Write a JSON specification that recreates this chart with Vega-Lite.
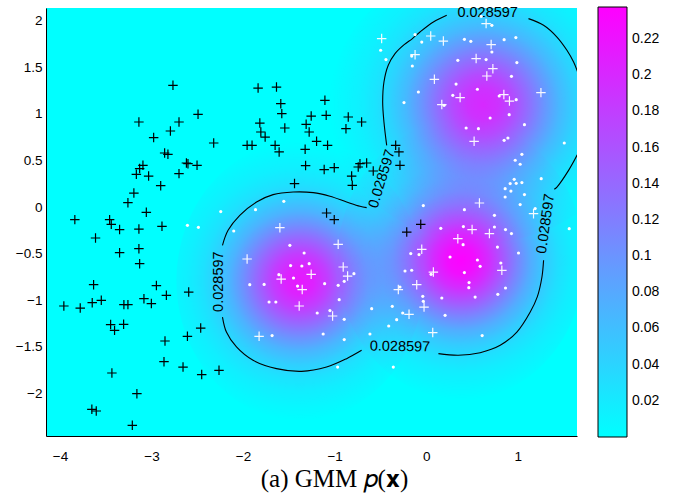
{
  "$schema": "https://vega.github.io/schema/vega-lite/v6.json",
  "width": 531,
  "height": 428,
  "autosize": {"type": "none"},
  "padding": {"left": 46, "top": 8, "right": 97, "bottom": 58},
  "background": "white",
  "title": {"text": "(a) GMM 𝑝(𝐱)", "orient": "bottom", "anchor": "middle", "frame": "group", "font": "Liberation Serif", "fontSize": 25, "fontWeight": "normal", "color": "black", "dx": 23, "offset": 4},
  "config": {
    "view": {"stroke": null, "fill": "#00ffff"},
    "axis": {"title": null, "grid": false, "ticks": false, "domainColor": "black", "domainWidth": 1, "labelFont": "Liberation Sans", "labelFontSize": 13.5, "labelColor": "black", "labelOverlap": false, "labelFlush": false}
  },
  "datasets": {
    "blobsLow": [
      {"x": -1.38, "y": -0.79, "peak": 0.215, "sigma": 0.45},
      {"x": 0.38, "y": -0.57, "peak": 0.235, "sigma": 0.45}
    ],
    "blobsTop": [
      {"x": 0.62, "y": 1.1, "peak": 0.2, "sigma": 0.56}
    ],
    "contour": [
      {"seg": 1, "i": 0, "x": -0.431, "y": 0.661}, {"seg": 1, "i": 1, "x": -0.461, "y": 0.911}, {"seg": 1, "i": 2, "x": -0.475, "y": 1.125}, {"seg": 1, "i": 3, "x": -0.461, "y": 1.34}, {"seg": 1, "i": 4, "x": -0.414, "y": 1.519}, {"seg": 1, "i": 5, "x": -0.34, "y": 1.644}, {"seg": 1, "i": 6, "x": -0.24, "y": 1.74}, {"seg": 1, "i": 7, "x": -0.15, "y": 1.805}, {"seg": 1, "i": 8, "x": -0.067, "y": 1.876}, {"seg": 1, "i": 9, "x": 0.079, "y": 1.983}, {"seg": 1, "i": 10, "x": 0.225, "y": 2.055},
      {"seg": 2, "i": 0, "x": 1.118, "y": 2.019}, {"seg": 2, "i": 1, "x": 1.283, "y": 1.948}, {"seg": 2, "i": 2, "x": 1.429, "y": 1.822}, {"seg": 2, "i": 3, "x": 1.538, "y": 1.68}, {"seg": 2, "i": 4, "x": 1.611, "y": 1.554}, {"seg": 2, "i": 5, "x": 1.648, "y": 1.465}, {"seg": 2, "i": 6, "x": 1.72, "y": 1.25}, {"seg": 2, "i": 7, "x": 1.75, "y": 1.0}, {"seg": 2, "i": 8, "x": 1.73, "y": 0.78}, {"seg": 2, "i": 9, "x": 1.7, "y": 0.66}, {"seg": 2, "i": 10, "x": 1.648, "y": 0.554}, {"seg": 2, "i": 11, "x": 1.556, "y": 0.393}, {"seg": 2, "i": 12, "x": 1.429, "y": 0.214}, {"seg": 2, "i": 13, "x": 1.4, "y": 0.19},
      {"seg": 3, "i": 0, "x": 1.283, "y": -0.571}, {"seg": 3, "i": 1, "x": 1.265, "y": -0.75}, {"seg": 3, "i": 2, "x": 1.215, "y": -0.96}, {"seg": 3, "i": 3, "x": 1.137, "y": -1.125}, {"seg": 3, "i": 4, "x": 0.991, "y": -1.34}, {"seg": 3, "i": 5, "x": 0.809, "y": -1.482}, {"seg": 3, "i": 6, "x": 0.59, "y": -1.561}, {"seg": 3, "i": 7, "x": 0.352, "y": -1.589}, {"seg": 3, "i": 8, "x": 0.134, "y": -1.571},
      {"seg": 4, "i": 0, "x": -0.705, "y": -1.536}, {"seg": 4, "i": 1, "x": -0.869, "y": -1.625}, {"seg": 4, "i": 2, "x": -1.088, "y": -1.715}, {"seg": 4, "i": 3, "x": -1.361, "y": -1.761}, {"seg": 4, "i": 4, "x": -1.635, "y": -1.732}, {"seg": 4, "i": 5, "x": -1.891, "y": -1.643}, {"seg": 4, "i": 6, "x": -2.072, "y": -1.5}, {"seg": 4, "i": 7, "x": -2.182, "y": -1.34}, {"seg": 4, "i": 8, "x": -2.225, "y": -1.179},
      {"seg": 5, "i": 0, "x": -2.225, "y": -0.41}, {"seg": 5, "i": 1, "x": -2.164, "y": -0.25}, {"seg": 5, "i": 2, "x": -2.036, "y": -0.089}, {"seg": 5, "i": 3, "x": -1.853, "y": 0.054}, {"seg": 5, "i": 4, "x": -1.672, "y": 0.133}, {"seg": 5, "i": 5, "x": -1.453, "y": 0.161}, {"seg": 5, "i": 6, "x": -1.234, "y": 0.154}, {"seg": 5, "i": 7, "x": -1.051, "y": 0.115}, {"seg": 5, "i": 8, "x": -0.869, "y": 0.054}, {"seg": 5, "i": 9, "x": -0.723, "y": 0.008}, {"seg": 5, "i": 10, "x": -0.65, "y": -0.006}
    ],
    "clabels": [
      {"id": 1, "x": 0.672, "y": 2.075, "text": "0.028597"},
      {"id": 2, "x": -0.48, "y": 0.3, "text": "0.028597"},
      {"id": 3, "x": -2.266, "y": -0.8, "text": "0.028597"},
      {"id": 4, "x": -0.286, "y": -1.5, "text": "0.028597"},
      {"id": 5, "x": 1.31, "y": -0.18, "text": "0.028597"}
    ],
    "blackPlus": [
      {"x": -2.766, "y": 1.304}, {"x": -2.492, "y": 0.994}, {"x": -3.138, "y": 0.911}, {"x": -2.7, "y": 0.911}, {"x": -2.794, "y": 0.815}, {"x": -2.977, "y": 0.744}, {"x": -2.321, "y": 0.686}, {"x": -2.857, "y": 0.579}, {"x": -2.821, "y": 0.565},
      {"x": -2.619, "y": 0.472}, {"x": -2.602, "y": 0.465}, {"x": -2.503, "y": 0.447}, {"x": -3.094, "y": 0.447}, {"x": -3.13, "y": 0.412}, {"x": -3.166, "y": 0.35}, {"x": -3.032, "y": 0.332}, {"x": -2.7, "y": 0.358}, {"x": -2.9, "y": 0.229}, {"x": -3.193, "y": 0.15}, {"x": -3.258, "y": 0.047}, {"x": -3.057, "y": -0.057}, {"x": -3.838, "y": -0.135}, {"x": -3.458, "y": -0.135}, {"x": -3.44, "y": -0.185}, {"x": -3.349, "y": -0.242}, {"x": -3.138, "y": -0.236}, {"x": -2.886, "y": -0.207}, {"x": -3.612, "y": -0.332}, {"x": -3.138, "y": -0.446}, {"x": -3.349, "y": -0.489}, {"x": -3.13, "y": -0.607}, {"x": -3.633, "y": -0.832}, {"x": -2.947, "y": -0.842}, {"x": -2.594, "y": -0.911}, {"x": -2.838, "y": -0.946}, {"x": -3.083, "y": -0.982},
      {"x": -3.958, "y": -1.061}, {"x": -3.779, "y": -1.083}, {"x": -3.648, "y": -1.025}, {"x": -3.549, "y": -1.0}, {"x": -3.302, "y": -1.046}, {"x": -3.258, "y": -1.046}, {"x": -3.002, "y": -1.035}, {"x": -3.447, "y": -1.26}, {"x": -3.404, "y": -1.322}, {"x": -3.305, "y": -1.257}, {"x": -2.463, "y": -1.297}, {"x": -2.853, "y": -1.436}, {"x": -2.608, "y": -1.386}, {"x": -2.864, "y": -1.657}, {"x": -2.656, "y": -1.715}, {"x": -2.452, "y": -1.796}, {"x": -2.263, "y": -1.75}, {"x": -3.433, "y": -1.779}, {"x": -3.16, "y": -2.0}, {"x": -3.652, "y": -2.168}, {"x": -3.604, "y": -2.186}, {"x": -3.21, "y": -2.34},
      {"x": -1.836, "y": 1.275}, {"x": -1.635, "y": 1.286}, {"x": -1.588, "y": 1.108}, {"x": -1.577, "y": 1.001}, {"x": -1.106, "y": 1.144}, {"x": -1.256, "y": 0.975}, {"x": -1.092, "y": 0.983}, {"x": -0.851, "y": 0.965}, {"x": -0.705, "y": 0.911}, {"x": -1.817, "y": 0.9}, {"x": -1.806, "y": 0.804}, {"x": -1.759, "y": 0.75}, {"x": -1.544, "y": 0.847}, {"x": -1.311, "y": 0.886}, {"x": -1.278, "y": 0.804}, {"x": -0.876, "y": 0.84}, {"x": -1.197, "y": 0.704}, {"x": -1.077, "y": 0.661}, {"x": -1.956, "y": 0.661}, {"x": -1.902, "y": 0.661}, {"x": -1.65, "y": 0.661}, {"x": -1.606, "y": 0.59}, {"x": -1.322, "y": 0.618}, {"x": -0.333, "y": 0.661}, {"x": -0.297, "y": 0.59},
      {"x": -1.317, "y": 0.444}, {"x": -1.114, "y": 0.401}, {"x": -1.004, "y": 0.422}, {"x": -0.814, "y": 0.332}, {"x": -0.807, "y": 0.233}, {"x": -0.742, "y": 0.429}, {"x": -0.723, "y": 0.465}, {"x": -0.65, "y": 0.472}, {"x": -0.578, "y": 0.386}, {"x": -1.438, "y": 0.251}, {"x": -1.088, "y": -0.064}, {"x": -1.004, "y": -0.135}, {"x": -0.286, "y": 0.447}, {"x": -0.059, "y": -0.185}, {"x": -0.212, "y": -0.268}
    ],
    "whitePlus": [
      {"x": -0.486, "y": 1.805}, {"x": -1.598, "y": -0.221}, {"x": -0.961, "y": -0.4}, {"x": -1.956, "y": -0.557}, {"x": -0.906, "y": -0.643}, {"x": -0.858, "y": -0.74}, {"x": -1.256, "y": -0.721}, {"x": -1.584, "y": -0.772}, {"x": -1.354, "y": -0.885}, {"x": -0.304, "y": -0.885},
      {"x": -1.387, "y": -1.061}, {"x": -1.022, "y": -1.168}, {"x": -1.825, "y": -1.386}, {"x": -0.023, "y": -1.072}, {"x": -0.187, "y": -1.15}, {"x": 0.072, "y": -1.346},
      {"x": 0.582, "y": 0.043}, {"x": 1.173, "y": -0.071}, {"x": 0.502, "y": -0.242}, {"x": 0.691, "y": -0.285}, {"x": 0.346, "y": -0.339}, {"x": -0.048, "y": -0.453}, {"x": 0.827, "y": -0.678}, {"x": 0.079, "y": -0.697}, {"x": -0.103, "y": -0.832},
      {"x": 0.655, "y": 1.966}, {"x": 0.05, "y": 1.833}, {"x": 0.188, "y": 1.779}, {"x": 0.71, "y": 1.741}, {"x": -0.121, "y": 1.633}, {"x": 0.546, "y": 1.591}, {"x": 0.729, "y": 1.483}, {"x": 0.663, "y": 1.404}, {"x": 0.09, "y": 1.369}, {"x": 0.371, "y": 1.173}, {"x": 0.849, "y": 1.205}, {"x": 0.91, "y": 1.136}, {"x": 0.171, "y": 1.098}, {"x": 1.254, "y": 1.226}, {"x": 0.524, "y": 0.704}
    ],
    "whiteDots": [
      {"x": -2.244, "y": -0.049}, {"x": -2.608, "y": -0.196}, {"x": -2.488, "y": -0.218}, {"x": -0.497, "y": 1.68}, {"x": -0.439, "y": 1.58}, {"x": -0.242, "y": 1.119},
      {"x": -1.555, "y": 0.061}, {"x": -1.864, "y": -0.028}, {"x": -2.102, "y": -0.257}, {"x": -1.489, "y": -0.411}, {"x": -1.333, "y": -0.493}, {"x": -1.278, "y": -0.607}, {"x": -1.481, "y": -0.628}, {"x": -1.358, "y": -0.632}, {"x": -1.609, "y": -0.725}, {"x": -1.449, "y": -0.761}, {"x": -1.405, "y": -0.847}, {"x": -1.927, "y": -0.832}, {"x": -1.77, "y": -0.829}, {"x": -1.109, "y": -0.821}, {"x": -0.961, "y": -0.839}, {"x": -0.895, "y": -0.796}, {"x": -0.789, "y": -0.714}, {"x": -0.231, "y": -0.686}, {"x": -0.286, "y": -0.857}, {"x": -0.95, "y": -0.993},
      {"x": -1.716, "y": -1.018}, {"x": -1.642, "y": -1.018}, {"x": -1.19, "y": -1.136}, {"x": -1.051, "y": -1.11}, {"x": -0.895, "y": -1.204}, {"x": -1.683, "y": -1.378}, {"x": -1.125, "y": -1.361}, {"x": -0.895, "y": -1.421}, {"x": -0.967, "y": -1.715}, {"x": -0.595, "y": -1.089}, {"x": -0.37, "y": -1.064}, {"x": -0.256, "y": -1.136}, {"x": -0.322, "y": -1.207}, {"x": -0.409, "y": -1.275}, {"x": -0.614, "y": -1.361}, {"x": -0.359, "y": -1.715},
      {"x": -0.037, "y": -0.957}, {"x": 0.171, "y": -0.975}, {"x": 0.535, "y": -0.965}, {"x": 0.783, "y": -0.936}, {"x": -0.031, "y": -1.011}, {"x": 0.207, "y": -1.161}, {"x": 0.612, "y": -1.378},
      {"x": 1.046, "y": 0.565}, {"x": 0.973, "y": 0.501}, {"x": 1.027, "y": 0.458}, {"x": 0.962, "y": 0.297}, {"x": 0.918, "y": 0.251}, {"x": 0.984, "y": 0.254}, {"x": 1.046, "y": 0.262}, {"x": 1.257, "y": 0.304}, {"x": 0.863, "y": 0.197}, {"x": 0.926, "y": 0.171}, {"x": 1.074, "y": 0.133}, {"x": 0.863, "y": 0.107}, {"x": 1.027, "y": 0.026}, {"x": 1.191, "y": -0.017}, {"x": 1.563, "y": -0.232},
      {"x": -0.031, "y": 0.015}, {"x": 0.418, "y": -0.028}, {"x": 0.746, "y": -0.089}, {"x": 0.16, "y": -0.228}, {"x": 0.407, "y": -0.21}, {"x": 0.746, "y": -0.214}, {"x": 0.867, "y": -0.242}, {"x": 0.932, "y": -0.285}, {"x": 0.404, "y": -0.403}, {"x": 0.779, "y": -0.429}, {"x": 1.009, "y": -0.493}, {"x": -0.168, "y": -0.499}, {"x": -0.078, "y": -0.51}, {"x": 0.261, "y": -0.536}, {"x": 0.56, "y": -0.568}, {"x": 0.59, "y": -0.636}, {"x": 0.816, "y": -0.6}, {"x": -0.158, "y": -0.678}, {"x": 0.418, "y": -0.703}, {"x": 0.054, "y": -0.721}, {"x": 0.469, "y": -0.81}, {"x": 0.466, "y": -0.864}, {"x": 0.867, "y": -0.868},
      {"x": 0.601, "y": 2.044}, {"x": 0.718, "y": 1.947}, {"x": -0.121, "y": 1.848}, {"x": -0.048, "y": 1.768}, {"x": 0.418, "y": 1.797}, {"x": 0.488, "y": 1.776}, {"x": 0.852, "y": 1.794}, {"x": 0.98, "y": 1.816}, {"x": -0.158, "y": 1.618}, {"x": -0.151, "y": 1.511}, {"x": 0.346, "y": 1.572}, {"x": 0.655, "y": 1.58}, {"x": 0.718, "y": 1.661}, {"x": 0.991, "y": 1.548}, {"x": 0.932, "y": 1.401}, {"x": 0.327, "y": 1.318}, {"x": -0.085, "y": 1.233}, {"x": 0.56, "y": 1.262}, {"x": 0.291, "y": 1.197}, {"x": 0.798, "y": 1.19}, {"x": 0.984, "y": 1.151}, {"x": 0.196, "y": 1.09}, {"x": 0.907, "y": 0.99}, {"x": 0.699, "y": 0.954}, {"x": 1.074, "y": 0.883}, {"x": 0.437, "y": 0.847}, {"x": 0.571, "y": 0.84}, {"x": 0.852, "y": 0.715}, {"x": 0.893, "y": 0.74}, {"x": 1.509, "y": 0.686}
    ]
  },
  "encoding": {
    "x": {"field": "x", "type": "quantitative", "scale": {"domain": [-4.153, 1.648], "nice": false, "zero": false}, "axis": {"values": [-4, -3, -2, -1, 0, 1], "format": "~g", "labelPadding": 13}},
    "y": {"field": "y", "type": "quantitative", "scale": {"domain": [-2.454, 2.133], "nice": false, "zero": false}, "axis": {"values": [-2, -1.5, -1, -0.5, 0, 0.5, 1, 1.5, 2], "format": "~g", "labelPadding": 4}}
  },
  "layer": [
    {
      "data": {"name": "blobsLow"},
      "mark": {"type": "point", "shape": "M-1,0A1,1.13,0,1,0,1,0A1,1.13,0,1,0,-1,0Z", "filled": true, "strokeWidth": 0, "clip": true,
        "fill": {"gradient": "radial", "x1": 0.5, "y1": 0.5, "r1": 0, "x2": 0.5, "y2": 0.5, "r2": 0.5, "stops": [
          {"offset": 0, "color": "rgba(255,0,255,1)"}, {"offset": 0.1, "color": "rgba(255,0,255,0.956)"}, {"offset": 0.2, "color": "rgba(255,0,255,0.835)"}, {"offset": 0.3, "color": "rgba(255,0,255,0.667)"}, {"offset": 0.4, "color": "rgba(255,0,255,0.49)"}, {"offset": 0.5, "color": "rgba(255,0,255,0.33)"}, {"offset": 0.6, "color": "rgba(255,0,255,0.21)"}, {"offset": 0.7, "color": "rgba(255,0,255,0.125)"}, {"offset": 0.8, "color": "rgba(255,0,255,0.07)"}, {"offset": 0.9, "color": "rgba(255,0,255,0.035)"}, {"offset": 1, "color": "rgba(255,0,255,0)"}]}},
      "encoding": {
        "size": {"field": "sigma", "type": "quantitative", "scale": {"type": "pow", "exponent": 2, "domain": [0, 1], "range": [0, 300743]}, "legend": null},
        "opacity": {"field": "peak", "type": "quantitative", "scale": {"domain": [0, 0.238], "range": [0, 1.0013]}, "legend": null}
      }
    },
    {
      "data": {"name": "blobsTop"},
      "mark": {"type": "point", "shape": "M-1,0A1,0.9,0,1,0,1,0A1,0.9,0,1,0,-1,0Z", "filled": true, "strokeWidth": 0, "clip": true,
        "fill": {"gradient": "radial", "x1": 0.5, "y1": 0.5, "r1": 0, "x2": 0.5, "y2": 0.5, "r2": 0.5, "stops": [
          {"offset": 0, "color": "rgba(255,0,255,1)"}, {"offset": 0.1, "color": "rgba(255,0,255,0.956)"}, {"offset": 0.2, "color": "rgba(255,0,255,0.835)"}, {"offset": 0.3, "color": "rgba(255,0,255,0.667)"}, {"offset": 0.4, "color": "rgba(255,0,255,0.49)"}, {"offset": 0.5, "color": "rgba(255,0,255,0.33)"}, {"offset": 0.6, "color": "rgba(255,0,255,0.21)"}, {"offset": 0.7, "color": "rgba(255,0,255,0.125)"}, {"offset": 0.8, "color": "rgba(255,0,255,0.07)"}, {"offset": 0.9, "color": "rgba(255,0,255,0.035)"}, {"offset": 1, "color": "rgba(255,0,255,0)"}]}},
      "encoding": {
        "size": {"field": "sigma", "type": "quantitative", "scale": {"type": "pow", "exponent": 2, "domain": [0, 1], "range": [0, 300743]}, "legend": null},
        "opacity": {"field": "peak", "type": "quantitative", "scale": {"domain": [0, 0.238], "range": [0, 1.0013]}, "legend": null}
      }
    },
    {
      "data": {"name": "blobsTop"},
      "mark": {"type": "point", "filled": true, "size": 0, "opacity": 1, "strokeWidth": 0},
      "encoding": {
        "color": {"field": "peak", "type": "quantitative", "scale": {"domain": [0, 0.2377], "range": ["#00ffff", "#ff00ff"], "interpolate": "rgb"},
          "legend": {"type": "gradient", "title": null, "orient": "none", "legendX": 552, "legendY": -1, "direction": "vertical", "gradientLength": 430, "gradientThickness": 29, "gradientStrokeColor": "black", "gradientStrokeWidth": 1, "values": [0.02, 0.04, 0.06, 0.08, 0.1, 0.12, 0.14, 0.16, 0.18, 0.2, 0.22], "format": "~g", "labelFont": "Liberation Sans", "labelFontSize": 14, "labelColor": "black", "labelOffset": 5, "labelOverlap": false}}
      }
    },
    {
      "data": {"name": "contour"},
      "mark": {"type": "line", "color": "black", "strokeWidth": 1.1, "interpolate": "catmull-rom", "clip": true},
      "encoding": {"detail": {"field": "seg", "type": "nominal"}, "order": {"field": "i", "type": "quantitative"}}
    },
    {"data": {"name": "clabels"}, "transform": [{"filter": "datum.id == 1"}], "mark": {"type": "text", "font": "Liberation Sans", "fontSize": 14.5, "color": "black", "align": "center", "baseline": "middle", "angle": 0}, "encoding": {"text": {"field": "text"}}},
    {"data": {"name": "clabels"}, "transform": [{"filter": "datum.id == 2"}], "mark": {"type": "text", "font": "Liberation Sans", "fontSize": 14.5, "color": "black", "align": "center", "baseline": "middle", "angle": 287}, "encoding": {"text": {"field": "text"}}},
    {"data": {"name": "clabels"}, "transform": [{"filter": "datum.id == 3"}], "mark": {"type": "text", "font": "Liberation Sans", "fontSize": 14.5, "color": "black", "align": "center", "baseline": "middle", "angle": 270}, "encoding": {"text": {"field": "text"}}},
    {"data": {"name": "clabels"}, "transform": [{"filter": "datum.id == 4"}], "mark": {"type": "text", "font": "Liberation Sans", "fontSize": 14.5, "color": "black", "align": "center", "baseline": "middle", "angle": 1}, "encoding": {"text": {"field": "text"}}},
    {"data": {"name": "clabels"}, "transform": [{"filter": "datum.id == 5"}], "mark": {"type": "text", "font": "Liberation Sans", "fontSize": 14.5, "color": "black", "align": "center", "baseline": "middle", "angle": 278}, "encoding": {"text": {"field": "text"}}},
    {
      "data": {"name": "whiteDots"},
      "mark": {"type": "point", "shape": "circle", "filled": true, "color": "white", "size": 10, "opacity": 1, "strokeWidth": 0}
    },
    {
      "data": {"name": "whitePlus"},
      "mark": {"type": "point", "shape": "M-1,0L1,0M0,-1L0,1", "filled": false, "color": "white", "size": 90, "strokeWidth": 1.2, "opacity": 0.95}
    },
    {
      "data": {"name": "blackPlus"},
      "mark": {"type": "point", "shape": "M-1,0L1,0M0,-1L0,1", "filled": false, "color": "black", "size": 90, "strokeWidth": 1.2, "opacity": 1}
    }
  ]
}
